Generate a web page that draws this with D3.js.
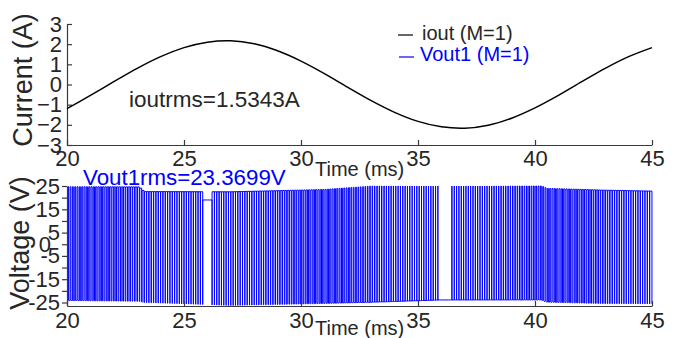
<!DOCTYPE html>
<html>
<head>
<meta charset="utf-8">
<script src="https://cdn.jsdelivr.net/npm/d3@7"></script>
<style>
  body { margin: 0; background: #fff; }
  svg text { font-family: "Liberation Sans", Arial, sans-serif; fill: #262626; }
  .axis path, .axis line { stroke: #3a3a3a; stroke-width: 1.2; }
</style>
</head>
<body>
<svg id="chart" width="679" height="338"></svg>
<script>
// output current, sampled every ms off the top trace
const timeMs = [20,21,22,23,24,25,26,27,28,29,30,31,32,33,34,35,36,37,38,39,40,41,42,43,44,45];
const ioutA = [-1.2,-0.54,0.14,0.8,1.38,1.83,2.1,2.17,2.02,1.67,1.16,0.54,-0.14,-0.8,-1.38,-1.83,-2.1,-2.17,-2.02,-1.67,-1.16,-0.54,0.14,0.8,1.38,1.83];

const timeTicks = [20,25,30,35,40,45];
const currentTicks = [-3,-2,-1,0,1,2,3];
const voltTicks = [-25,-20,-15,-10,-5,0,5,10,15,20,25];
const voltLabels = [-25,-15,-5,0,5,15,25];

// dc-link levels of the pwm output (V)
const levelTimeMs = [20,23.1,23.3,27,31,33,36,40.3,40.5,43,45];
const topLevelV = [24.7,24.6,22.6,22.5,23.5,25,25,25,24,23.2,22.8];
const botLevelV = [-24.1,-24.5,-25,-26.3,-25.4,-24.9,-23.9,-23.9,-24.8,-25.5,-25.6];

// stretches with no switching
const holdStart = [25.82, 35.87];
const holdEnd = [26.2, 36.37];
const holdLevel = [19, -23.9];

const carrierKHz = 10, refHz = 50, refPeakMs = 26.05, modIndex = 1;

const svg = d3.select("#chart");
const left = 67, right = 652;

const x = d3.scaleLinear().domain([20, 45]).range([left, right]);
const yI = d3.scaleLinear().domain([-3, 3]).range([145, 24]);
const yV = d3.scaleLinear().domain([-26.5, 25]).range([306, 186]);

// ---- top panel
svg.append("g").attr("class", "axis")
  .attr("transform", "translate(0,145)")
  .call(d3.axisBottom(x).tickValues(timeTicks).tickSizeInner(-5).tickSizeOuter(0).tickPadding(5))
  .call(g => g.selectAll("text").style("font-size", "22px").attr("fill", "#262626"));

svg.append("g").attr("class", "axis")
  .attr("transform", "translate(" + left + ",0)")
  .call(d3.axisLeft(yI).tickValues(currentTicks).tickFormat(d3.format("d"))
    .tickSizeInner(-5).tickSizeOuter(0).tickPadding(5))
  .call(g => g.selectAll("text").style("font-size", "22px").attr("fill", "#262626"));

const currentLine = d3.line()
  .x((d, i) => x(timeMs[i]))
  .y(d => yI(d))
  .curve(d3.curveCatmullRom);

svg.append("path")
  .datum(ioutA)
  .attr("d", currentLine)
  .attr("fill", "none")
  .attr("stroke", "#000")
  .attr("stroke-width", 1.5);

svg.append("text").attr("transform", "translate(32,80) rotate(-90)")
  .attr("text-anchor", "middle").style("font-size", "27px").text("Current (A)");
svg.append("text").attr("x", 315).attr("y", 176).style("font-size", "20px").text("Time (ms)");
svg.append("text").attr("x", 129).attr("y", 107).style("font-size", "22.5px").text("ioutrms=1.5343A");

// legend
svg.append("line").attr("x1", 398).attr("x2", 413).attr("y1", 35).attr("y2", 35)
  .attr("stroke", "#000").attr("stroke-width", 1.2);
svg.append("text").attr("x", 422).attr("y", 40).style("font-size", "20px").text("iout (M=1)");
svg.append("line").attr("x1", 399).attr("x2", 414).attr("y1", 57).attr("y2", 57)
  .attr("stroke", "#0000ff").attr("stroke-width", 1.2);
svg.append("text").attr("x", 420).attr("y", 61).style("font-size", "20px")
  .style("fill", "#0000ff").text("Vout1 (M=1)");

// ---- bottom panel
const topAt = d3.scaleLinear().domain(levelTimeMs).range(topLevelV);
const botAt = d3.scaleLinear().domain(levelTimeMs).range(botLevelV);

const Ts = 1 / carrierKHz;
const nPer = Math.round((45 - 20) * carrierKHz);
const pts = [[20, botAt(20)]];
for (let k = 0; k < nPer; k++) {
  const t0 = 20 + k * Ts, tc = t0 + Ts / 2;
  const h = holdStart.findIndex((s, i) => tc >= s && tc <= holdEnd[i]);
  if (h >= 0) {
    pts.push([t0, holdLevel[h]], [t0 + Ts, holdLevel[h]]);
    continue;
  }
  const r = modIndex * Math.cos(2 * Math.PI * refHz * (tc - refPeakMs) / 1000);
  const hw = Ts * (1 + r) / 4;
  const lo = botAt(tc), hi = topAt(tc);
  pts.push([t0, lo], [tc - hw, lo], [tc - hw, hi], [tc + hw, hi], [tc + hw, lo]);
}
pts.push([45, botAt(45)]);

svg.append("path")
  .datum(pts)
  .attr("d", d3.line().x(d => x(d[0])).y(d => yV(d[1])))
  .attr("fill", "none")
  .attr("stroke", "#0000ff")
  .attr("stroke-width", 1);

svg.append("g").attr("class", "axis")
  .attr("transform", "translate(0,306)")
  .call(d3.axisBottom(x).tickValues(timeTicks).tickSizeInner(-5).tickSizeOuter(0).tickPadding(6))
  .call(g => g.selectAll("text").style("font-size", "22px").attr("fill", "#262626"));

svg.append("g").attr("class", "axis")
  .attr("transform", "translate(" + left + ",0)")
  .call(d3.axisLeft(yV).tickValues(voltTicks).tickSizeInner(5).tickSizeOuter(0).tickPadding(2)
    .tickFormat(d => voltLabels.includes(d) ? d : ""))
  .call(g => g.selectAll("text").style("font-size", "22px").attr("fill", "#262626"))
  .call(g => g.selectAll(".tick").filter(d => d === 0).select("text").attr("x", -16));

svg.append("text").attr("transform", "translate(29,243) rotate(-90)")
  .attr("text-anchor", "middle").style("font-size", "27px").text("Voltage (V)");
svg.append("text").attr("x", 315).attr("y", 335).style("font-size", "20px").text("Time (ms)");
svg.append("text").attr("x", 83).attr("y", 185).style("font-size", "22.3px")
  .style("fill", "#0000ff").text("Vout1rms=23.3699V");
</script>
</body>
</html>
